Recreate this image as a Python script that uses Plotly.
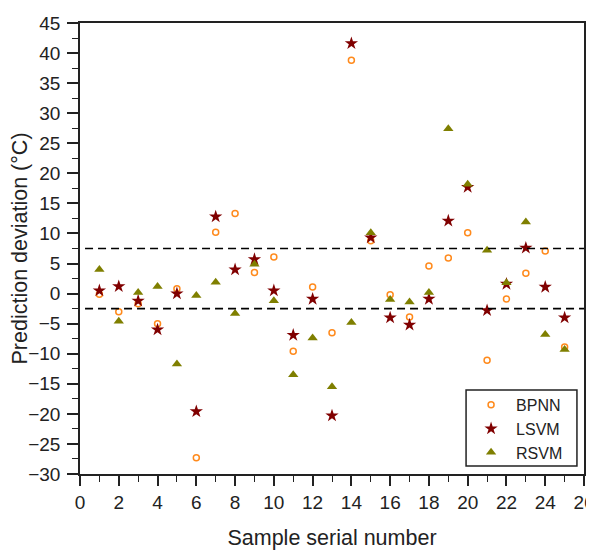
import plotly.graph_objects as go

samples = list(range(1, 26))
bpnn = [-0.1, -3.0, -1.7, -5.0, 0.8, -27.3, 10.2, 13.3, 3.5, 6.1, -9.6, 1.1, -6.5, 38.8,
        8.8, -0.2, -3.9, 4.6, 5.9, 10.1, -11.1, -0.9, 3.4, 7.1, -8.9]
lsvm = [0.5, 1.2, -1.2, -6.0, 0.0, -19.6, 12.8, 4.0, 5.7, 0.5, -6.9, -0.9, -20.3, 41.6,
        9.3, -4.0, -5.2, -0.9, 12.1, 17.7, -2.8, 1.6, 7.6, 1.1, -4.0]
rsvm = [4.0, -4.6, 0.2, 1.2, -11.7, -0.3, 1.9, -3.3, 4.9, -1.2, -13.5, -7.4, -15.5, -4.8,
        10.1, -1.0, -1.4, 0.2, 27.4, 18.2, 7.2, 1.8, 11.9, -6.8, -9.3]
ref_lines = [7.5, -2.5]

fig = go.Figure()
fig.add_trace(go.Scatter(x=samples, y=bpnn, mode="markers", name="BPNN",
                         marker=dict(symbol="circle-open", size=6, color="#FF8A1C",
                                     line=dict(width=1.5, color="#FF8A1C"))))
fig.add_trace(go.Scatter(x=samples, y=lsvm, mode="markers", name="LSVM",
                         marker=dict(symbol="star", size=10, color="#800000")))
fig.add_trace(go.Scatter(x=samples, y=rsvm, mode="markers", name="RSVM",
                         marker=dict(symbol="triangle-up", size=9, color="#7F7F00")))

for v in ref_lines:
    fig.add_shape(type="line", xref="paper", x0=0.01, x1=1, yref="y", y0=v, y1=v,
                  line=dict(color="black", width=1.6, dash="8px,5px"))

# legend frame
fig.add_shape(type="rect", xref="paper", yref="paper", x0=0.766, x1=0.986, y0=0.018, y1=0.186,
              line=dict(color="#222", width=1.5), fillcolor="white", layer="above")

font = "Liberation Sans, Arial, sans-serif"
fig.update_layout(
    width=586, height=542,
    margin=dict(l=72, r=10, t=15, b=76, autoexpand=False),
    paper_bgcolor="white", plot_bgcolor="white",
    font=dict(family=font, size=19, color="#222"),
    showlegend=True,
    legend=dict(x=0.766, y=0.191, xanchor="left", yanchor="top",
                borderwidth=0, bgcolor="rgba(0,0,0,0)",
                font=dict(size=16), itemsizing="trace", itemwidth=40),
    xaxis=dict(range=[0, 26], tickmode="linear", tick0=0, dtick=2,
               ticks="outside", ticklen=10, tickwidth=1.5, tickcolor="#222",
               showline=True, linecolor="#222", linewidth=1.5, mirror=True,
               showgrid=False, zeroline=False, automargin=False, ticklabeloverflow="allow",
               minor=dict(dtick=1, ticks="outside", ticklen=6, tickwidth=1.2, tickcolor="#222"),
               title=dict(text="Sample serial number", font=dict(size=21.5), standoff=22)),
    yaxis=dict(range=[-30, 45], tickmode="linear", tick0=-30, dtick=5,
               ticks="outside", ticklen=11, tickwidth=1.5, tickcolor="#222",
               showline=True, linecolor="#222", linewidth=1.5, mirror=True,
               showgrid=False, zeroline=False, automargin=False, ticklabelstandoff=3,
               minor=dict(dtick=2.5, ticks="outside", ticklen=6, tickwidth=1.2, tickcolor="#222"),
               title=dict(text="Prediction deviation (°C)", font=dict(size=21.5), standoff=6)),
)

fig.write_html("out.html")
